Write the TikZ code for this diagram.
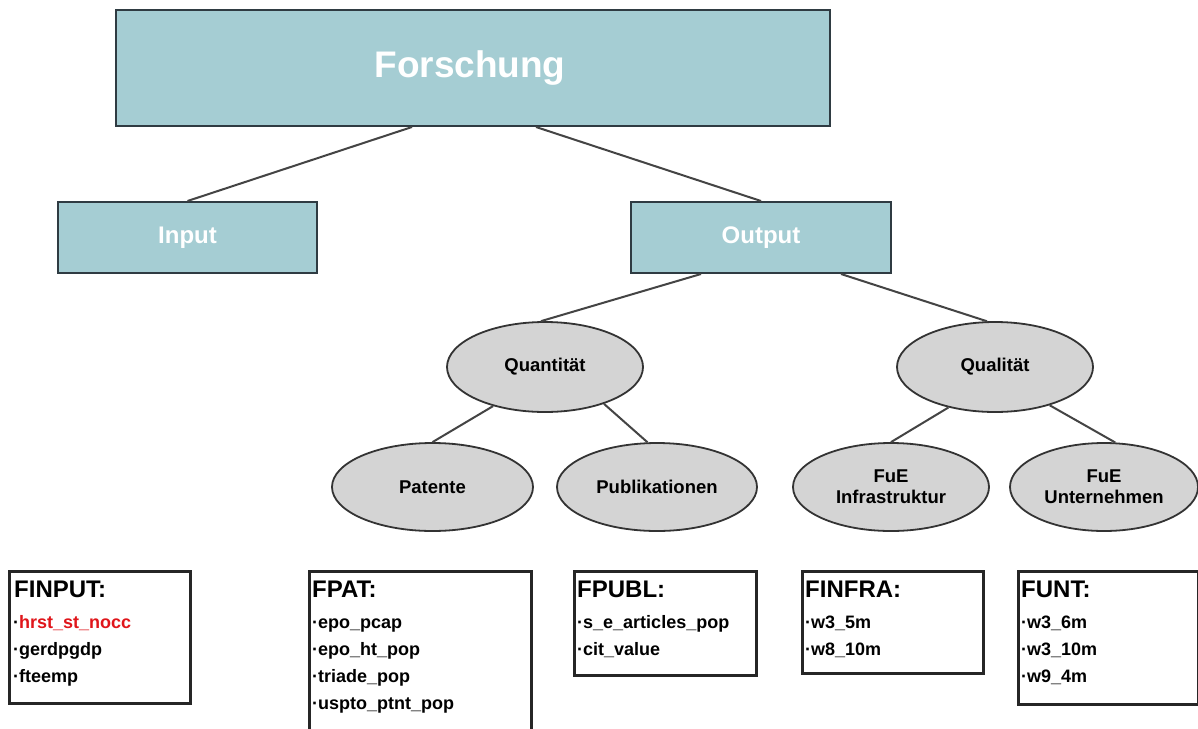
\documentclass[tikz,border=0pt]{standalone}
\usepackage{fontspec}
\setmainfont{Liberation Sans}
\usetikzlibrary{shapes.geometric}
\definecolor{teal}{HTML}{A5CDD3}
\definecolor{tealline}{HTML}{2F3B42}
\definecolor{ellfill}{HTML}{D4D4D4}
\definecolor{conn}{HTML}{444444}
\definecolor{redtxt}{HTML}{E0161B}
\tikzset{
  tealbox/.style={draw=tealline, line width=2pt, fill=teal, inner sep=0pt, text=white},
  ell/.style={ellipse, draw=black!80, line width=1.8pt, fill=ellfill, inner sep=0pt,
    minimum height=88pt, align=center, font=\bfseries\fontsize{18.5}{21}\selectfont},
  varbox/.style={draw=black!85, line width=2.5pt, inner sep=0pt},
  hdr/.style={anchor=base west, inner sep=0pt, font=\bfseries\fontsize{24}{26}\selectfont},
  itm/.style={anchor=base west, inner sep=0pt, font=\bfseries\fontsize{18}{20}\selectfont},
  link/.style={draw=conn, line width=2pt},
}
\begin{document}
\begin{tikzpicture}[x=1pt,y=-1pt]
\useasboundingbox (0,0) rectangle (1198,728);
\clip (0,0) rectangle (1198,728);
\fill[white] (0,0) rectangle (1198,728);

% top level
\node[tealbox, minimum width=714pt, minimum height=116pt] (forsch) at (473,68) {};
\node[text=white, inner sep=0pt, font=\bfseries\fontsize{37}{42}\selectfont] (forschlbl) at (470,68) {Forschung};
\node[tealbox, minimum width=259pt, minimum height=71pt, font=\bfseries\fontsize{24}{28}\selectfont] (input) at (187.5,237.5) {Input};
\node[tealbox, minimum width=260pt, minimum height=71pt, font=\bfseries\fontsize{24}{28}\selectfont] (output) at (761,237.5) {Output};

% ellipses
\node[ell, minimum width=196pt, minimum height=90pt] (quant) at (545,367) {Quantit\"at};
\node[ell, minimum width=196pt, minimum height=90pt] (qual) at (995,367) {Qualit\"at};
\node[ell, minimum width=201pt] (pat) at (432.5,487) {Patente};
\node[ell, minimum width=200pt] (publ) at (657,487) {Publikationen};
\node[ell, minimum width=196pt] (infra) at (891,487) {FuE\\Infrastruktur};
\node[ell, minimum width=188pt] (unt) at (1104,487) {FuE\\Unternehmen};

% connectors
\draw[link] ([xshift=-61pt]forsch.south) -- (input.north);
\draw[link] ([xshift=63pt]forsch.south) -- (output.north);
\draw[link] ([xshift=-60pt]output.south) -- (quant.95);
\draw[link] ([xshift=80pt]output.south) -- (qual.100);
\draw[link] (quant.217) -- (pat.90);
\draw[link] (quant.328) -- (publ.102);
\draw[link] (qual.221) -- (infra.90);
\draw[link] (qual.325) -- (unt.76);

% variable boxes
\node[varbox, minimum width=181pt, minimum height=132pt, anchor=north west] (finput) at (8,570) {};
\node[varbox, minimum width=222pt, minimum height=180pt, anchor=north west] (fpat) at (308,570) {};
\node[varbox, minimum width=182pt, minimum height=104pt, anchor=north west] (fpubl) at (573,570) {};
\node[varbox, minimum width=181pt, minimum height=102pt, anchor=north west] (finfra) at (801,570) {};
\node[varbox, minimum width=180pt, minimum height=133pt, anchor=north west] (funt) at (1017,570) {};

% FINPUT
\node[hdr] (finputh) at (14,597) {FINPUT:};
\node[itm, text=redtxt] (finput1) at (13,628) {\textcolor{black}{·}hrst\_st\_nocc};
\node[itm] (finput2) at (13,655) {·gerdpgdp};
\node[itm] (finput3) at (13,682) {·fteemp};
% FPAT
\node[hdr] (fpath) at (312,597) {FPAT:};
\node[itm] (fpat1) at (312,628) {·epo\_pcap};
\node[itm] (fpat2) at (312,655) {·epo\_ht\_pop};
\node[itm] (fpat3) at (312,682) {·triade\_pop};
\node[itm] (fpat4) at (312,709) {·uspto\_ptnt\_pop};
% FPUBL
\node[hdr] (fpublh) at (577,597) {FPUBL:};
\node[itm] (fpubl1) at (577,628) {·s\_e\_articles\_pop};
\node[itm] (fpubl2) at (577,655) {·cit\_value};
% FINFRA
\node[hdr] (finfrah) at (805,597) {FINFRA:};
\node[itm] (finfra1) at (805,628) {·w3\_5m};
\node[itm] (finfra2) at (805,655) {·w8\_10m};
% FUNT
\node[hdr] (funth) at (1021,597) {FUNT:};
\node[itm] (funt1) at (1021,628) {·w3\_6m};
\node[itm] (funt2) at (1021,655) {·w3\_10m};
\node[itm] (funt3) at (1021,682) {·w9\_4m};
\end{tikzpicture}
\end{document}
